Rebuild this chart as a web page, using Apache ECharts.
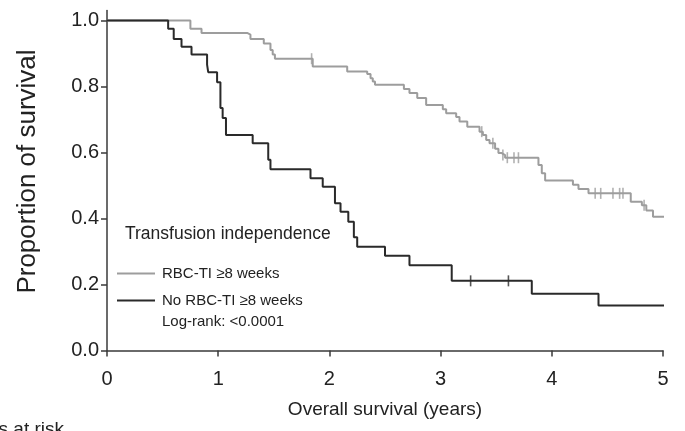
<!DOCTYPE html>
<html>
<head>
<meta charset="utf-8">
<script src="https://cdn.jsdelivr.net/npm/echarts@6/dist/echarts.min.js"></script>
<style>
  html, body { margin: 0; padding: 0; background: #fff; }
  #chart { width: 685px; height: 431px; }
</style>
</head>
<body>
<div id="chart"></div>
<script>
// Kaplan–Meier estimates: event times (years) and survival after each step
const tiTime = [0, 0.75, 0.85, 1.26, 1.29, 1.41, 1.47, 1.49, 1.51, 1.85, 2.16, 2.34, 2.37, 2.39, 2.41,
  2.67, 2.72, 2.79, 2.87, 3.02, 3.05, 3.14, 3.17, 3.24, 3.35, 3.38, 3.41, 3.44, 3.49, 3.52, 3.55, 3.58,
  3.88, 3.91, 3.94, 4.19, 4.24, 4.33, 4.71, 4.81, 4.85, 4.91, 5.02];
const tiSurv = [1.0, 0.975, 0.962, 0.957, 0.944, 0.930, 0.910, 0.897, 0.884, 0.860, 0.845, 0.838, 0.825, 0.815, 0.805,
  0.792, 0.780, 0.765, 0.744, 0.731, 0.719, 0.707, 0.694, 0.678, 0.663, 0.653, 0.638, 0.628, 0.611, 0.598, 0.592, 0.584,
  0.562, 0.537, 0.515, 0.502, 0.489, 0.476, 0.451, 0.440, 0.424, 0.405, 0.405];
const tiCensor = [1.84, 3.37, 3.47, 3.56, 3.60, 3.66, 3.70, 4.39, 4.44, 4.55, 4.61, 4.64, 4.83];

const noTime = [0, 0.55, 0.60, 0.67, 0.76, 0.90, 0.91, 0.99, 1.02, 1.04, 1.07, 1.31, 1.45, 1.47, 1.83,
  1.94, 2.05, 2.10, 2.17, 2.22, 2.25, 2.50, 2.72, 3.10, 3.82, 4.42, 5.02];
const noSurv = [1.0, 0.975, 0.944, 0.920, 0.897, 0.866, 0.843, 0.813, 0.735, 0.704, 0.653, 0.628, 0.578, 0.549, 0.522,
  0.496, 0.446, 0.420, 0.390, 0.343, 0.314, 0.287, 0.258, 0.211, 0.172, 0.136, 0.136];
const noCensor = [3.27, 3.61];

const xTicks = [0, 1, 2, 3, 4, 5];
const yTicks = [0, 0.2, 0.4, 0.6, 0.8, 1.0];

const seriesNames = ['RBC-TI \u22658 weeks', 'No RBC-TI \u22658 weeks'];
const legendTitle = 'Transfusion independence';
const logRankText = 'Log-rank: <0.0001';

const GREY = '#9d9d9d';
const DARK = '#2a2a2a';
const FONT = '"Liberation Sans", Arial, sans-serif';

function pairs(t, s) { return t.map((v, i) => [v, s[i]]); }
function survAt(t, s, x) {
  let v = s[0];
  for (let i = 0; i < t.length; i++) { if (t[i] <= x) v = s[i]; }
  return v;
}
function censorPoints(c, t, s) { return c.map(x => [x, survAt(t, s, x)]); }

const chart = echarts.init(document.getElementById('chart'), null, { renderer: 'canvas' });

chart.setOption({
  animation: false,
  backgroundColor: '#ffffff',
  grid: { left: 107, right: 22, top: 10.5, bottom: 80.5, containLabel: false },
  xAxis: {
    type: 'value', min: 0, max: 5, interval: 1,
    name: 'Overall survival (years)', nameLocation: 'middle', nameGap: 50,
    nameTextStyle: { fontFamily: FONT, fontSize: 19, color: '#222' },
    axisLine: { lineStyle: { color: '#3a3a3a', width: 1.5 } },
    axisTick: { length: 6, lineStyle: { color: '#3a3a3a', width: 1.5 }, customValues: xTicks },
    axisLabel: { fontFamily: FONT, fontSize: 20, color: '#222', margin: 19, customValues: xTicks,
      formatter: v => String(v) },
    splitLine: { show: false }
  },
  yAxis: {
    type: 'value', min: 0, max: 1.03,
    name: 'Proportion of survival', nameLocation: 'middle', nameGap: 66, nameRotate: 90,
    nameTextStyle: { fontFamily: FONT, fontSize: 26, color: '#222', padding: [0, 0, 0, 18] },
    axisLine: { show: true, lineStyle: { color: '#3a3a3a', width: 1.5 } },
    axisTick: { show: true, length: 6, lineStyle: { color: '#3a3a3a', width: 1.5 }, customValues: yTicks },
    axisLabel: { fontFamily: FONT, fontSize: 20, color: '#222', margin: 8, customValues: yTicks,
      formatter: v => v.toFixed(1) },
    splitLine: { show: false }
  },
  legend: {
    data: seriesNames,
    orient: 'vertical', left: 112, top: 261,
    itemWidth: 38, itemHeight: 2, itemGap: 12,
    icon: 'rect',
    textStyle: { fontFamily: FONT, fontSize: 15, color: '#222', padding: [0, 0, 0, 2] },
    selectedMode: false
  },
  graphic: [
    { type: 'text', left: 125, top: 225, silent: true,
      style: { text: legendTitle, font: '17.5px ' + FONT, fill: '#222' } },
    { type: 'text', left: 162, top: 314, silent: true,
      style: { text: logRankText, font: '15px ' + FONT, fill: '#222' } },
    { type: 'text', right: 621, top: 420, silent: true,
      style: { text: 'Patients at risk', font: '19px ' + FONT, fill: '#222' } }
  ],
  series: [
    { name: seriesNames[0], type: 'line', step: 'end', data: pairs(tiTime, tiSurv),
      showSymbol: false, clip: false, lineStyle: { color: GREY, width: 2 }, itemStyle: { color: GREY } },
    { name: seriesNames[1], type: 'line', step: 'end', data: pairs(noTime, noSurv),
      showSymbol: false, clip: false, lineStyle: { color: DARK, width: 2 }, itemStyle: { color: DARK } },
    { name: 'ti-censored', type: 'scatter', data: censorPoints(tiCensor, tiTime, tiSurv),
      symbol: 'rect', symbolSize: [1.6, 11], itemStyle: { color: GREY }, silent: true },
    { name: 'no-censored', type: 'scatter', data: censorPoints(noCensor, noTime, noSurv),
      symbol: 'rect', symbolSize: [1.6, 11], itemStyle: { color: DARK }, silent: true }
  ]
});
</script>
</body>
</html>
